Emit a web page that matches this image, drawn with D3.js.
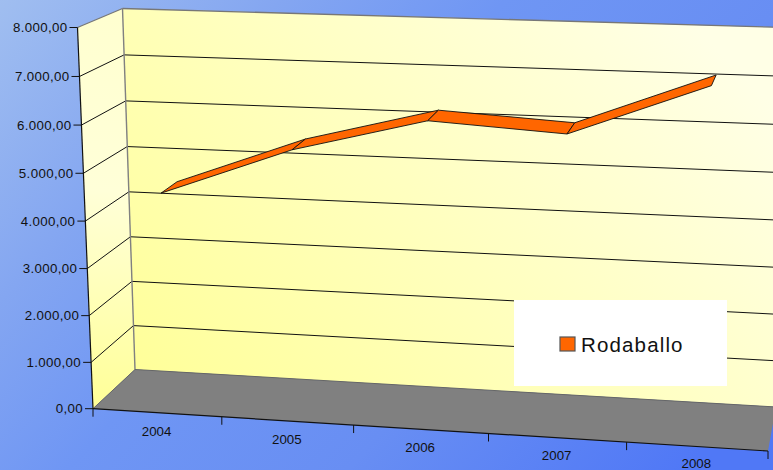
<!DOCTYPE html>
<html>
<head>
<meta charset="utf-8">
<script src="https://cdn.jsdelivr.net/npm/d3@7/dist/d3.min.js"></script>
<style>html,body{margin:0;padding:0;background:#7a9ef0;overflow:hidden}svg{display:block}text{font-family:"Liberation Sans",Arial,sans-serif;fill:#111}</style>
</head>
<body>
<script>
const categories = ["2004","2005","2006","2007","2008"];
const seriesName = "Rodaballo";
const seriesValues = [4490,5520,6235,6080,7165];
const valueTicks = [0,1000,2000,3000,4000,5000,6000,7000,8000];

const W=773,H=470;
const svg=d3.select("body").append("svg").attr("width",W).attr("height",H);
const defs=svg.append("defs");
function grad(id,x1,y1,x2,y2,stops){
  const g=defs.append("linearGradient").attr("id",id).attr("gradientUnits","userSpaceOnUse")
    .attr("x1",x1).attr("y1",y1).attr("x2",x2).attr("y2",y2);
  stops.forEach(s=>g.append("stop").attr("offset",s[0]).attr("stop-color",s[1]));
}
grad("bg",0,0,600,560,[[0,"#a0bef0"],[0.25,"#84a6f1"],[0.45,"#6f96f4"],[0.7,"#688ef3"],[1,"#5078f6"]]);
grad("wall",180,420,640,-30,[[0,"#ffff99"],[1,"#ffffe6"]]);
grad("side",80,400,130,20,[[0,"#ffff99"],[0.55,"#ffffd8"],[1,"#ffffd0"]]);

// box geometry: four vertical edges, each spanned by the value scale
const edges={
  FL:{x:[93,77.5],y:[408.7,27.5]},
  FR:{x:[768,784],y:[451,53]},
  BL:{x:[135,122.5],y:[369.5,8.5]},
  BR:{x:[776,792],y:[407,27.7]}
};
const persp=(f,c)=>f/(1+c*(1-f));
const valueScale=d3.scaleLinear().domain([0,8000]).range([0,1]);
const catScale=d3.scaleBand().domain(categories).range([0,1]);
const lerp=(a,b,t)=>a+(b-a)*t;
function edgePt(e,g){return [lerp(e.x[0],e.x[1],g),lerp(e.y[0],e.y[1],g)];}
// t: 0..1 along categories, v: value, w: depth 0 front .. 1 back
function project(t,v,w){
  const g=persp(valueScale(v),0.032), s=persp(t,0.06);
  const fl=edgePt(edges.FL,g),fr=edgePt(edges.FR,g),bl=edgePt(edges.BL,g),br=edgePt(edges.BR,g);
  const f=[lerp(fl[0],fr[0],s),lerp(fl[1],fr[1],s)];
  const b=[lerp(bl[0],br[0],s),lerp(bl[1],br[1],s)];
  return [lerp(f[0],b[0],w),lerp(f[1],b[1],w)];
}
const poly=pts=>"M"+pts.map(p=>p.join(",")).join("L")+"Z";

svg.append("rect").attr("width",W).attr("height",H).attr("fill","url(#bg)");

const vMax=8000;
// walls and floor
svg.append("path").attr("d",poly([project(0,0,1),project(1,0,1),project(1,vMax,1),project(0,vMax,1)])).attr("fill","url(#wall)");
svg.append("path").attr("d",poly([project(0,0,0),project(0,0,1),project(0,vMax,1),project(0,vMax,0)])).attr("fill","url(#side)");
svg.append("path").attr("d",poly([project(0,0,0),project(1,0,0),project(1,0,1),project(0,0,1)])).attr("fill","#808080");

// gridlines
const line=(a,b,col,wd)=>svg.append("line").attr("x1",a[0]).attr("y1",a[1]).attr("x2",b[0]).attr("y2",b[1]).attr("stroke",col).attr("stroke-width",wd);
valueTicks.slice(1,-1).forEach(v=>{
  line(project(0,v,1),project(1,v,1),"#111",1);
  line(project(0,v,0),project(0,v,1),"#111",1);
});
// wall edges
line(project(0,0,1),project(0,vMax,1),"#808080",1.4);
line(project(0,vMax,1),project(1,vMax,1),"#777",1.4);
line(project(0,vMax,0),project(0,vMax,1),"#777",1.2);
line(project(0,0,1),project(1,0,1),"#666",1);
line(project(0,0,0),project(0,0,1),"#666",1);

// axes
line(project(0,0,0),project(0,vMax,0),"#111",1.2);
line(project(0,0,0),project(1,0,0),"#111",1.2);
const fmt=d3.formatLocale({decimal:",",thousands:".",grouping:[3],currency:["",""]}).format(",.2f");
valueTicks.forEach(v=>{
  const p=project(0,v,0);
  line([p[0]-8,p[1]],p,"#111",1);
  svg.append("text").attr("x",p[0]-10).attr("y",p[1]+4.5).attr("text-anchor","end").attr("font-size",13.3).attr("letter-spacing",0.35).text(fmt(v));
});
d3.range(categories.length+1).forEach(i=>{
  const p=project(i/categories.length,0,0);
  line(p,[p[0],p[1]+8],"#111",1);
});
categories.forEach(c=>{
  const t=catScale(c)+catScale.bandwidth()/2;
  const p=project(t,0,0);
  svg.append("text").attr("x",p[0]-0.5).attr("y",p[1]+24-2.5*t).attr("text-anchor","middle").attr("font-size",13.3).text(c);
});

// ribbon series
const w0=0.27,w1=0.67;
const pts=categories.map((c,i)=>({t:catScale(c)+catScale.bandwidth()/2,v:seriesValues[i]}));
d3.pairs(pts).forEach(([a,b])=>{
  svg.append("path").attr("d",poly([project(a.t,a.v,w0),project(b.t,b.v,w0),project(b.t,b.v,w1),project(a.t,a.v,w1)]))
    .attr("fill","#ff6600").attr("stroke","#111").attr("stroke-width",0.9).attr("stroke-linejoin","round");
});

// legend
const legend=svg.append("g").attr("transform","translate(514,300)");
legend.append("rect").attr("width",213).attr("height",86).attr("fill","#fff");
legend.append("rect").attr("x",46).attr("y",37).attr("width",15).attr("height",14).attr("fill","#ff6600").attr("stroke","#555").attr("stroke-width",1.2);
legend.append("text").attr("x",67).attr("y",52).attr("font-size",20.5).attr("letter-spacing",1.15).text(seriesName);
</script>
</body>
</html>
